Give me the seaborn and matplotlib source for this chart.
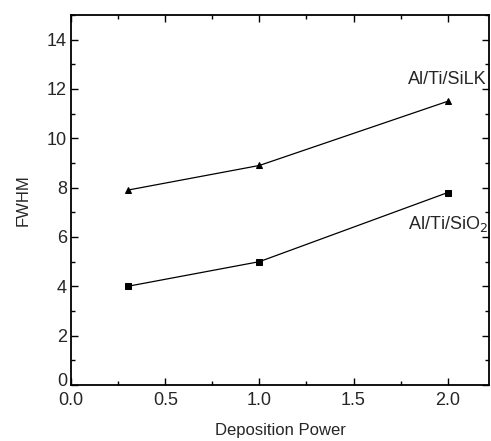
import numpy as np
import pandas as pd
import matplotlib
matplotlib.use('Agg')
import matplotlib.pyplot as plt
import matplotlib.transforms as mtransforms
import seaborn as sns
from matplotlib.ticker import MultipleLocator

# data
power = [0.3, 1.0, 2.0]
fwhm_silk = [7.9, 8.9, 11.5]
fwhm_sio2 = [4.0, 5.0, 7.8]

df = pd.DataFrame({
    'power': power * 2,
    'fwhm': fwhm_silk + fwhm_sio2,
    'sample': ['Al/Ti/SiLK'] * 3 + ['Al/Ti/SiO2'] * 3,
})

sns.set_style('ticks')
plt.rcParams['font.family'] = ['Liberation Sans', 'DejaVu Sans']

fig = plt.figure(figsize=(4.91, 4.41), dpi=100)
ax = fig.add_axes([0.145, 0.127, 0.851, 0.839])

sns.lineplot(data=df, x='power', y='fwhm', style='sample', markers={'Al/Ti/SiLK': '^', 'Al/Ti/SiO2': 's'},
             dashes=False, color='black', lw=0.9, markersize=5, markeredgecolor='black', legend=False, ax=ax)

ax.set_xlim(0, 2.22)
ax.set_ylim(0, 15)
ax.xaxis.set_minor_locator(MultipleLocator(0.25))
ax.yaxis.set_minor_locator(MultipleLocator(1))
ax.set_xticks(np.arange(0, 2.01, 0.5))
ax.set_yticks(np.arange(0, 14.1, 2))
ax.xaxis.set_major_formatter(matplotlib.ticker.FormatStrFormatter('%.1f'))
ax.tick_params(which='both', direction='in', top=True, right=True, color='black', width=1)
ax.tick_params(which='major', length=5, labelsize=13)
ax.tick_params(axis='x', pad=5)
ax.tick_params(axis='y', pad=3)
ax.tick_params(which='minor', length=3)
for s in ax.spines.values():
    s.set_color('black')
    s.set_linewidth(1.3)

# nudge the "0" on the y axis up a little so it does not run into "0.0"
zero = ax.yaxis.get_major_ticks()[0].label1
zero.set_transform(zero.get_transform() + mtransforms.ScaledTranslation(0, 4 / 72, fig.dpi_scale_trans))

ax.set_xlabel('Deposition Power', fontsize=12, labelpad=10)
ax.set_ylabel('FWHM', fontsize=12, labelpad=12)

ax.text(2.0, 12.05, 'Al/Ti/SiLK', fontsize=13, ha='center', va='bottom')
ax.text(2.0, 6.92, 'Al/Ti/SiO$_2$', fontsize=13, ha='center', va='top')

fig.savefig('out.png', dpi=100)
